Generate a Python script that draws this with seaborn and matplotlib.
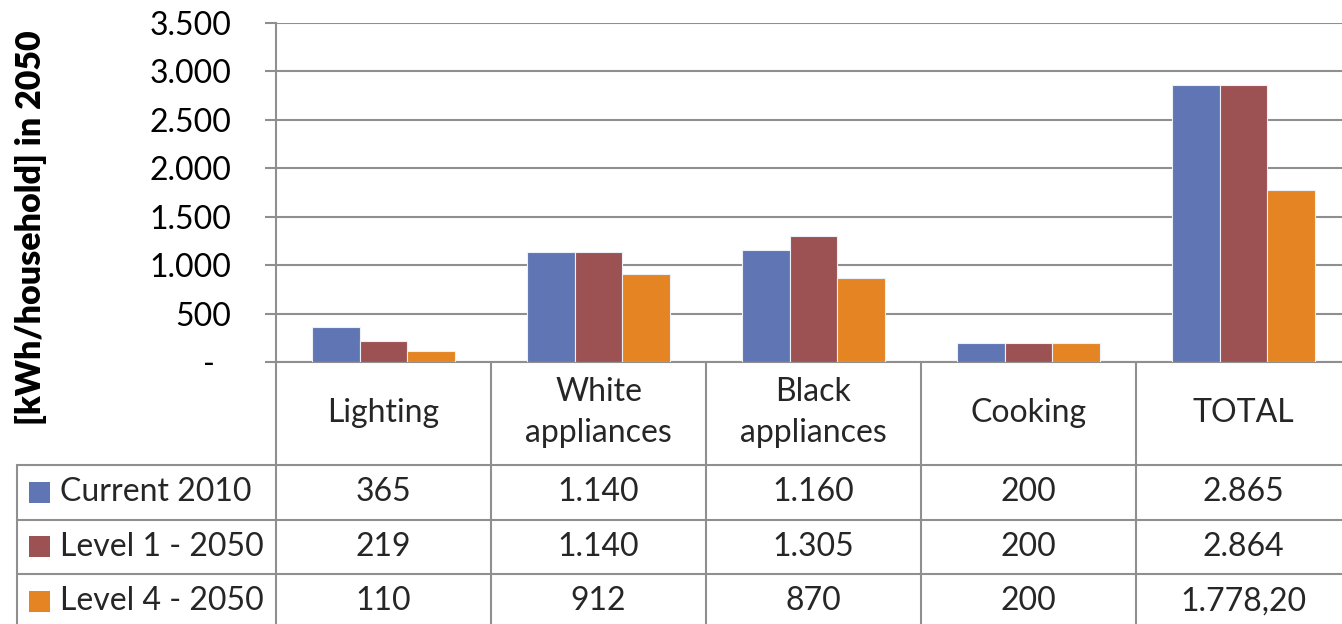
import matplotlib
matplotlib.use("Agg")
import matplotlib.pyplot as plt
from matplotlib.transforms import Affine2D, blended_transform_factory
from matplotlib.lines import Line2D
from matplotlib.patches import Rectangle
from matplotlib.ticker import FuncFormatter, MultipleLocator
import pandas as pd
import seaborn as sns

# ---- data ----
categories = ["Lighting", "White appliances", "Black appliances", "Cooking", "TOTAL"]
category_labels = ["Lighting", "White\nappliances", "Black\nappliances", "Cooking", "TOTAL"]
series_names = ["Current 2010", "Level 1 - 2050", "Level 4 - 2050"]
current_2010 = [365, 1140, 1160, 200, 2865]
level1_2050 = [219, 1140, 1305, 200, 2864]
level4_2050 = [110, 912, 870, 200, 1778.20]
series_values = [current_2010, level1_2050, level4_2050]
colors = ["#6076B4", "#9C5153", "#E58422"]
y_label = "[kWh/household] in 2050"

rows = []
for name, vals in zip(series_names, series_values):
    for cat, v in zip(categories, vals):
        rows.append({"category": cat, "series": name, "value": v})
df = pd.DataFrame(rows)


def fmt_num(v):
    """European style: '.' thousands separator, ',' decimal mark."""
    if float(v).is_integer():
        s = f"{int(v):,}"
        return s.replace(",", ".")
    s = f"{v:,.2f}"
    return s.replace(",", "X").replace(".", ",").replace("X", ".")


# ---- figure ----
W, H = 1342, 624
sns.set_theme(style="white")
plt.rcParams["font.family"] = ["Lato", "DejaVu Sans"]
fig = plt.figure(figsize=(W / 100, H / 100), dpi=100)
fig.patch.set_facecolor("white")

ax_left, ax_right, ax_top, ax_bottom = 276, 1351, 23, 362
ax = fig.add_axes([ax_left / W, 1 - ax_bottom / H,
                   (ax_right - ax_left) / W, (ax_bottom - ax_top) / H])

grid_col = "#8f8f8f"
sns.barplot(data=df, x="category", y="value", hue="series", order=categories,
            hue_order=series_names, palette=colors, saturation=1, width=0.667,
            edgecolor="#eef0f8", linewidth=0.8, legend=False, ax=ax, zorder=3)

ax.set_xlim(-0.5, len(categories) - 0.5)
ax.set_ylim(0, 3500)
ax.yaxis.set_major_locator(MultipleLocator(500))
ax.yaxis.set_major_formatter(FuncFormatter(lambda v, p: "-  " if v == 0 else fmt_num(v)))
ax.grid(axis="y", color=grid_col, linewidth=1.5, zorder=0)
ax.set_axisbelow(True)
ax.set_xticks([])
ax.set_xlabel("")
ax.set_ylabel(y_label, fontsize=24.5, fontweight=800, color="black", va="center")
ax.yaxis.set_label_coords((31 - ax_left) / (ax_right - ax_left),
                          (ax_bottom - 228) / (ax_bottom - ax_top))
ax.tick_params(axis="y", which="major", length=8, width=1.5, color=grid_col,
               labelsize=23, labelcolor="black", pad=24, left=True)
for side in ["top", "right"]:
    ax.spines[side].set_visible(False)
for side in ["left", "bottom"]:
    ax.spines[side].set_color(grid_col)
    ax.spines[side].set_linewidth(1.5)

# ---- data table below the axis ----
px = Affine2D().scale(1 / W, -1 / H).translate(0, 1) + fig.transFigure
xdata_ypx = blended_transform_factory(ax.transData, px)

header_bottom = 465
row_h = 54.5
table_left = 17
n_rows = len(series_names)
table_bottom = header_bottom + n_rows * row_h
line_kw = dict(color=grid_col, linewidth=1.5, clip_on=False)

# vertical separators at category boundaries
for b in range(len(categories) + 1):
    ax.add_line(Line2D([b - 0.5, b - 0.5], [ax_bottom, table_bottom],
                       transform=xdata_ypx, **line_kw))
# horizontal row lines
for r in range(n_rows + 1):
    y = header_bottom + r * row_h
    fig.add_artist(Line2D([table_left, ax_right], [y, y], transform=px, **line_kw))
fig.add_artist(Line2D([table_left, table_left], [header_bottom, table_bottom],
                      transform=px, **line_kw))

# category header row
for i, lab in enumerate(category_labels):
    ax.text(i, (ax_bottom + header_bottom) / 2 - 1, lab, transform=xdata_ypx,
            ha="center", va="center", fontsize=23, linespacing=1.42, clip_on=False)

# series rows with legend keys and values
for r, (name, vals, col) in enumerate(zip(series_names, series_values, colors)):
    yc = header_bottom + (r + 0.5) * row_h
    fig.add_artist(Rectangle((29, yc - 10.5), 21, 21, transform=px,
                             facecolor=col, edgecolor="none"))
    fig.text(60 / W, 1 - yc / H, name, ha="left", va="center", fontsize=23)
    for i, v in enumerate(vals):
        ax.text(i, yc, fmt_num(v), transform=xdata_ypx, ha="center", va="center",
                fontsize=23, clip_on=False)

fig.savefig("out.png", dpi=100, facecolor="white")
